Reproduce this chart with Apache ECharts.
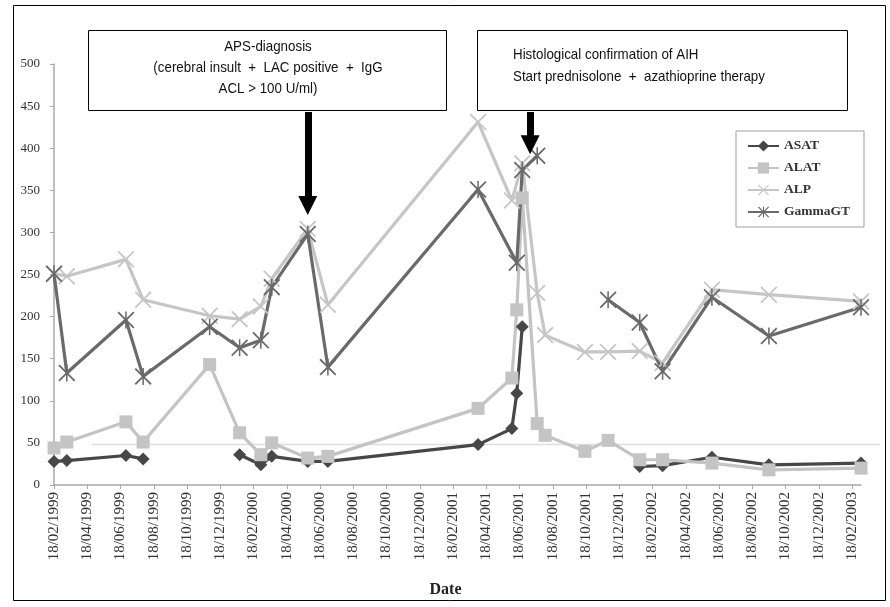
<!DOCTYPE html>
<html><head><meta charset="utf-8">
<script src="https://cdn.jsdelivr.net/npm/echarts@6/dist/echarts.min.js"></script>
<style>html,body{margin:0;padding:0;background:#fff}#c{width:890px;height:607px}</style>
</head><body><div id="c"></div>
<script>
// ---- data ----
const asatDates  = ['1999-02-18','1999-03-11','1999-06-28','1999-07-29','1999-11-01','2000-01-23','2000-03-01','2000-03-21','2000-05-26','2000-07-02','2001-04-03','2001-06-04','2001-06-13','2001-06-23','2001-10-01','2002-01-25','2002-03-06','2002-06-05','2002-09-18','2003-03-04'];
const asatValues = [28,29,35,31,null,36,24,34,28,28,48,67,109,188,null,22,23,33,24,26];
const alatDates  = ['1999-02-18','1999-03-11','1999-06-28','1999-07-29','1999-11-29','2000-01-23','2000-03-01','2000-03-21','2000-05-26','2000-07-02','2001-04-03','2001-06-04','2001-06-13','2001-06-23','2001-07-20','2001-08-04','2001-10-16','2001-11-28','2002-01-25','2002-03-06','2002-06-05','2002-09-18','2003-03-04'];
const alatValues = [44,51,75,51,143,62,36,50,32,34,91,127,208,341,73,59,40,53,30,30,26,18,20];
const alpDates   = ['1999-02-18','1999-03-11','1999-06-28','1999-07-29','1999-11-29','2000-01-23','2000-03-01','2000-03-21','2000-05-26','2000-07-02','2001-04-03','2001-06-04','2001-06-23','2001-07-20','2001-08-04','2001-10-16','2001-11-28','2002-01-25','2002-03-06','2002-06-05','2002-09-18','2003-03-04'];
const alpValues  = [251,248,268,220,201,197,212,245,304,214,431,338,382,228,178,158,158,159,145,232,226,218];
const ggtDates   = ['1999-02-18','1999-03-11','1999-06-28','1999-07-29','1999-11-29','2000-01-23','2000-03-01','2000-03-21','2000-05-26','2000-07-02','2001-04-03','2001-06-13','2001-06-23','2001-07-20','2001-09-15','2001-11-28','2002-01-25','2002-03-06','2002-06-05','2002-09-18','2003-03-04'];
const ggtValues  = [251,133,196,129,188,163,172,235,298,140,351,264,374,391,null,220,193,135,223,177,211];
const seriesNames = ['ASAT','ALAT','ALP','GammaGT'];
const tickLabels = ['18/02/1999','18/04/1999','18/06/1999','18/08/1999','18/10/1999','18/12/1999','18/02/2000','18/04/2000','18/06/2000','18/08/2000','18/10/2000','18/12/2000','18/02/2001','18/04/2001','18/06/2001','18/08/2001','18/10/2001','18/12/2001','18/02/2002','18/04/2002','18/06/2002','18/08/2002','18/10/2002','18/12/2002','18/02/2003'];
const axisEndDate = '2003-03-04';
const yMin = 0, yMax = 500, yStep = 50;
const refLineValue = 48;
const annotationDates = ['2000-05-26','2001-07-07'];
const arrowFrom = [443, 443];
const arrowTo = [332, 404];
const box1Lines = ['APS-diagnosis','(cerebral insult  +  LAC positive  +  IgG','ACL > 100 U/ml)'];
const box2Lines = ['Histological confirmation of AIH','Start prednisolone  +  azathioprine therapy'];

// ---- helpers ----
function toMonths(s){const p=s.split('-').map(Number);return (p[0]-1999)*12+(p[1]-2)+(p[2]-18)/30.44;}
function pairs(d,v){return d.map((x,i)=>[toMonths(x), v[i]==null?null:v[i]]);}
const X_PATH='path://M0,1.5L1.5,0L10,8.5L18.5,0L20,1.5L11.5,10L20,18.5L18.5,20L10,11.5L1.5,20L0,18.5L8.5,10Z';
const STAR_PATH='path://M0,1.5L1.5,0L10,8.5L18.5,0L20,1.5L11.5,10L20,18.5L18.5,20L10,11.5L1.5,20L0,18.5L8.5,10Z M9.1,0L10.9,0L10.9,20L9.1,20Z';
const SERIF='"Liberation Serif","Times New Roman",serif';
const NARROW='"Liberation Sans Narrow","Arial Narrow","Liberation Sans",Arial,sans-serif';

const chart = echarts.init(document.getElementById('c'), null, {renderer:'canvas'});
const colors = {ASAT:'#474747', ALAT:'#c4c4c4', ALP:'#c6c6c6', GammaGT:'#6a6a6a'};
function mkSeries(name, data, symbol, size){
  return {name, type:'line', data, symbol, symbolSize:size, showAllSymbol:true, connectNulls:false,
    lineStyle:{width:3.2,color:colors[name]}, itemStyle:{color:colors[name]}, emphasis:{disabled:true}, z:3};
}
const s1 = mkSeries('ASAT', pairs(asatDates,asatValues), 'diamond', 13);
const s2 = mkSeries('ALAT', pairs(alatDates,alatValues), 'rect', 13);
const s3 = mkSeries('ALP', pairs(alpDates,alpValues), X_PATH, 17);
const s4 = mkSeries('GammaGT', pairs(ggtDates,ggtValues), STAR_PATH, 17);
s4.markLine = {silent:true, symbol:['none','triangle'], symbolSize:19, animation:false,
  lineStyle:{color:'#000', width:7, type:'solid'}, label:{show:false},
  data: annotationDates.map((d,i)=>[{coord:[toMonths(d),arrowFrom[i]]},{coord:[toMonths(d),arrowTo[i]]}])};

chart.setOption({
  animation:false,
  backgroundColor:'#fff',
  grid:{left:54,right:29,top:64,bottom:122,containLabel:false},
  legend:{orient:'vertical',left:736,top:131,padding:[8,14,8,11],itemWidth:31,itemHeight:14,itemGap:8,
    backgroundColor:'#fff',borderColor:'#a0a0a0',borderWidth:1,
    textStyle:{fontFamily:SERIF,fontSize:13.5,fontWeight:'bold',color:'#333'},data:seriesNames},
  xAxis:{type:'value',min:0,max:toMonths(axisEndDate),interval:2,
    name:'Date',nameLocation:'middle',nameGap:97,
    nameTextStyle:{fontFamily:SERIF,fontSize:16,fontWeight:'bold',color:'#222',padding:[0,24,0,0]},
    axisLine:{lineStyle:{color:'#a8a8a8',width:1.5}},
    axisTick:{show:true,length:4,lineStyle:{color:'#a8a8a8'}},
    splitLine:{show:false},
    axisLabel:{rotate:90,margin:7,showMaxLabel:false,fontFamily:SERIF,fontSize:15,color:'#333',
      formatter:v=>{const k=Math.round(v/2);return Math.abs(v-2*k)<1e-6&&tickLabels[k]?tickLabels[k]:'';}}},
  yAxis:{type:'value',min:yMin,max:yMax,interval:yStep,
    axisLine:{show:true,lineStyle:{color:'#a8a8a8',width:1.5}},
    axisTick:{show:true,length:4,lineStyle:{color:'#a8a8a8'}},
    splitLine:{show:false},
    axisLabel:{margin:14,fontFamily:SERIF,fontSize:13,color:'#333'}},
  series:[s1,s2,s3,s4]
});

// annotation boxes, frame and reference line
const yRef = chart.convertToPixel({gridIndex:0},[0,refLineValue])[1];
const g = [
  {type:'rect',shape:{x:13.5,y:5.5,width:872,height:595},style:{fill:null,stroke:'#000',lineWidth:1},z:0},
  {type:'line',shape:{x1:92,y1:yRef,x2:880,y2:yRef},style:{stroke:'#dedede',lineWidth:1.5},z:1},
  {type:'rect',shape:{x:88.5,y:30.5,width:358,height:80},style:{fill:'#fff',stroke:'#000',lineWidth:1},z:10},
  {type:'rect',shape:{x:477.5,y:30.5,width:370,height:80},style:{fill:'#fff',stroke:'#000',lineWidth:1},z:10}
];
box1Lines.forEach((t,i)=>g.push({type:'text',x:268,y:47+21*i,z:11,scaleX:0.89,
  style:{text:t,fill:'#111',font:'15px '+NARROW,textAlign:'center',textVerticalAlign:'middle'}}));
box2Lines.forEach((t,i)=>g.push({type:'text',x:513,y:55+21.5*i,z:11,scaleX:0.89,
  style:{text:t,fill:'#111',font:'15px '+NARROW,textAlign:'left',textVerticalAlign:'middle'}}));
chart.setOption({graphic:g});
</script></body></html>
